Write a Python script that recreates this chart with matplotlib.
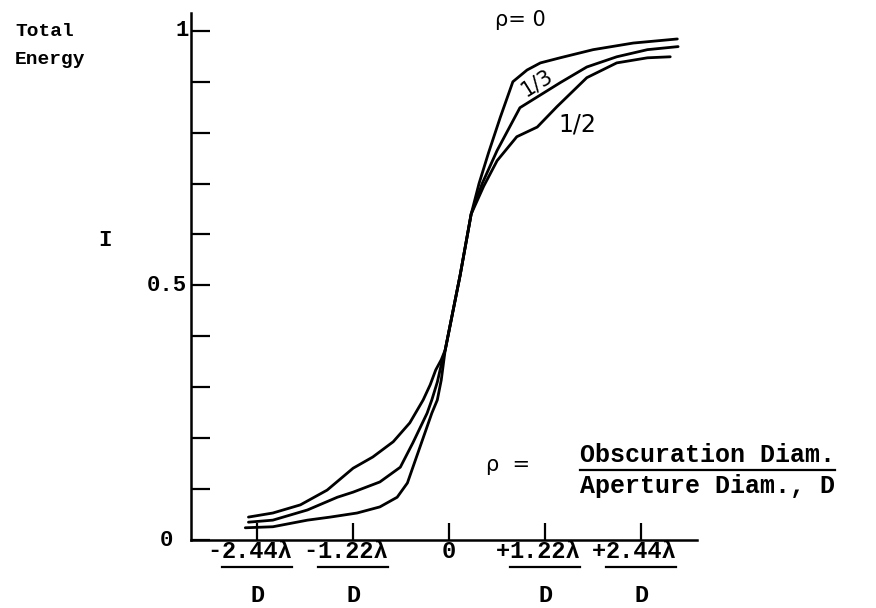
import numpy as np
import matplotlib.pyplot as plt
from matplotlib.transforms import blended_transform_factory

# x in units of lambda/D, y = total energy
x_rho0 = [-2.59, -2.24, -1.80, -1.51, -1.17, -0.88, -0.66, -0.53, -0.46, -0.34,
          -0.22, -0.15, -0.10, -0.05, 0.14, 0.28, 0.38, 0.50, 0.65, 0.81,
          0.99, 1.16, 1.41, 1.83, 2.34, 2.90]
y_rho0 = [0.024, 0.026, 0.039, 0.045, 0.053, 0.065, 0.084, 0.112, 0.143, 0.196,
          0.249, 0.275, 0.314, 0.373, 0.520, 0.640, 0.700, 0.760, 0.830, 0.900,
          0.923, 0.937, 0.947, 0.963, 0.976, 0.984]

x_rho13 = [-2.55, -2.24, -1.80, -1.42, -1.22, -0.88, -0.62, -0.46, -0.28, -0.22,
           -0.15, -0.10, -0.05, 0.14, 0.28, 0.42, 0.61, 0.90, 1.16, 1.41,
           1.75, 2.13, 2.52, 2.91]
y_rho13 = [0.035, 0.039, 0.059, 0.084, 0.094, 0.114, 0.143, 0.191, 0.249, 0.275,
           0.310, 0.344, 0.373, 0.520, 0.640, 0.700, 0.765, 0.849, 0.874, 0.898,
           0.929, 0.949, 0.963, 0.969]

x_rho12 = [-2.55, -2.24, -1.89, -1.55, -1.22, -0.97, -0.71, -0.50, -0.33, -0.24,
           -0.17, -0.10, -0.05, 0.14, 0.28, 0.44, 0.61, 0.86, 1.12, 1.37,
           1.63, 1.75, 2.13, 2.52, 2.81]
y_rho12 = [0.045, 0.053, 0.069, 0.098, 0.141, 0.163, 0.193, 0.230, 0.275, 0.305,
           0.334, 0.354, 0.373, 0.520, 0.640, 0.695, 0.745, 0.792, 0.811, 0.851,
           0.890, 0.908, 0.937, 0.947, 0.949]

xtick_pos = [-2.44, -1.22, 0, 1.22, 2.44]
xtick_sign = ['-', '-', '', '+', '+']
xtick_num = ['2.44λ', '1.22λ', '0', '1.22λ', '2.44λ']
ytick_pos = [0, 0.1, 0.2, 0.3, 0.4, 0.5, 0.6, 0.7, 0.8, 0.9, 1.0]
ylabel_pos = [0, 0.5, 1.0]
ylabel_txt = ['0', '0.5', '1']

mono = 'Liberation Mono'
sans = 'DejaVu Sans'

fig = plt.figure(figsize=(8.76, 6.08), dpi=100)
ax = fig.add_axes([191/876, 68/608, 506/876, 527/608])
ax.set_xlim(-3.28, 3.15)
ax.set_ylim(0, 1.035)

for xs, ys in [(x_rho0, y_rho0), (x_rho13, y_rho13), (x_rho12, y_rho12)]:
    ax.plot(xs, ys, color='black', lw=2.0, solid_joinstyle='round',
            solid_capstyle='round')

for s in ['top', 'right']:
    ax.spines[s].set_visible(False)
for s in ['left', 'bottom']:
    ax.spines[s].set_linewidth(1.8)

ax.set_yticks(ytick_pos)
ax.set_yticklabels([])
ax.set_xticks(xtick_pos)
ax.set_xticklabels([])
ax.tick_params(axis='y', direction='in', length=13.5, width=1.6)
ax.tick_params(axis='x', direction='in', length=12.5, width=1.6)

# y labels
ty = blended_transform_factory(fig.transFigure, ax.transData)
ylab_x = [173, 187, 189]
for yv, t, xp in zip(ylabel_pos, ylabel_txt, ylab_x):
    ax.text(xp/876, yv, t, transform=ty, ha='right', va='center',
            fontsize=16, family=mono, weight='bold')
fig.text(15/876, 1 - 32/608, 'Total', fontsize=14, family=mono, va='center',
         weight='bold')
fig.text(15/876, 1 - 60/608, 'Energy', fontsize=14, family=mono, va='center',
         weight='bold')
fig.text(98/876, 1 - 240/608, 'I', fontsize=16, family=mono, va='center',
         weight='bold')

# x labels as fractions
tx = blended_transform_factory(ax.transData, fig.transFigure)
fig.canvas.draw()
r = fig.canvas.get_renderer()
inv = fig.transFigure.inverted()
for xv, sg, num in zip(xtick_pos, xtick_sign, xtick_num):
    t = ax.text(xv, 1 - 551/608, num, transform=tx, ha='center', va='center',
                fontsize=17, family=mono, weight='bold')
    if num == '0':
        continue
    bb = t.get_window_extent(renderer=r)
    (x0, _), (x1, _) = inv.transform([[bb.x0, 0], [bb.x1, 0]])
    fig.text(x0, 1 - 551/608, sg, ha='right', va='center', fontsize=17,
             family=mono, weight='bold')
    fig.add_artist(plt.Line2D([x0, x1], [1 - 567/608] * 2, color='black', lw=1.6))
    ax.text(xv, 1 - 595/608, 'D', transform=tx, ha='center', va='center',
            fontsize=17, family=mono, weight='bold')

# curve labels
fig.text(520/876, 1 - 20/608, 'ρ= 0', ha='center', va='center', fontsize=15,
         family=sans)
fig.text(537/876, 1 - 83/608, '1/3', ha='center', va='center', fontsize=15,
         family=sans, rotation=32)
fig.text(577/876, 1 - 124/608, '1/2', ha='center', va='center', fontsize=17,
         family=sans)

# definition of rho
fig.text(508/876, 1 - 465/608, 'ρ  =', ha='center', va='center', fontsize=15,
         family=sans)
t = fig.text(580/876, 1 - 455/608, 'Obscuration Diam.', ha='left', va='center',
             fontsize=18, family=mono, weight='bold')
bb = t.get_window_extent(renderer=r)
(x0, _), (x1, _) = inv.transform([[bb.x0, 0], [bb.x1, 0]])
fig.add_artist(plt.Line2D([x0, x1], [1 - 470/608] * 2, color='black', lw=1.6))
fig.text(580/876, 1 - 486/608, 'Aperture Diam., D', ha='left', va='center',
         fontsize=18, family=mono, weight='bold')

fig.savefig('out.png', dpi=100)
